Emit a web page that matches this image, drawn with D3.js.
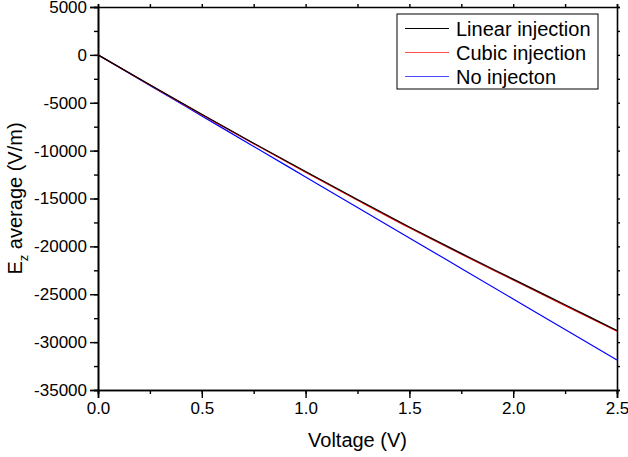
<!DOCTYPE html>
<html>
<head>
<meta charset="utf-8">
<script src="https://cdn.jsdelivr.net/npm/d3@7/dist/d3.min.js"></script>
<style>
  body { margin: 0; background: #fff; }
  svg { font-family: Arial, "Liberation Sans", sans-serif; }
</style>
</head>
<body>
<script>
// voltage steps (V)
var voltage = [0, 0.25, 0.5, 0.75, 1.0, 1.25, 1.5, 1.75, 2.0, 2.25, 2.5];
// Ez average (V/m)
var linearInj = [0, -3120, -6200, -9220, -12180, -15100, -17970, -20730, -23420, -26100, -28780];
var cubicInj  = [0, -3150, -6250, -9280, -12250, -15180, -18060, -20820, -23510, -26200, -28850];
var noInj     = [0, -3190, -6375, -9560, -12750, -15940, -19120, -22310, -25500, -28690, -31870];

var seriesNames = ["Linear injection", "Cubic injection", "No injecton"];
var seriesColors = ["#000000", "#ff0000", "#0000ff"];

var xTicks = [0, 0.5, 1.0, 1.5, 2.0, 2.5];
var yTicks = [5000, 0, -5000, -10000, -15000, -20000, -25000, -30000, -35000];

var W = 628, H = 457;
var margin = {left: 98, right: 11, top: 7, bottom: 67};
var w = W - margin.left - margin.right;
var h = H - margin.top - margin.bottom;

var svg = d3.select("body").append("svg")
    .attr("width", W).attr("height", H);
var g = svg.append("g")
    .attr("transform", "translate(" + margin.left + "," + margin.top + ")");

var x = d3.scaleLinear().domain([0, 2.5]).range([0, w]);
var y = d3.scaleLinear().domain([-35000, 5000]).range([h, 0]);

// minor ticks first
var xMinor = d3.range(0, 2.5001, 0.25);
var yMinor = d3.range(-35000, 5001, 2500);

g.append("g").attr("transform", "translate(0," + h + ")")
    .call(d3.axisBottom(x).tickValues(xMinor).tickSize(4).tickFormat(""));
g.append("g")
    .call(d3.axisLeft(y).tickValues(yMinor).tickSize(4).tickFormat(""));
g.append("g")
    .call(d3.axisTop(x).tickValues(xMinor).tickSize(3).tickFormat(""));
g.append("g").attr("transform", "translate(" + w + ",0)")
    .call(d3.axisRight(y).tickValues(yMinor).tickSize(3).tickFormat(""));

// major ticks with labels
var xAxis = g.append("g").attr("transform", "translate(0," + h + ")")
    .call(d3.axisBottom(x).tickValues(xTicks).tickSize(8).tickPadding(4)
      .tickFormat(d3.format(".1f")));
var yAxis = g.append("g")
    .call(d3.axisLeft(y).tickValues(yTicks).tickSize(8).tickPadding(3)
      .tickFormat(function(d){ return d; }));

svg.selectAll(".domain").attr("stroke", "#000").attr("stroke-width", 1.6);
svg.selectAll(".tick line").attr("stroke", "#000").attr("stroke-width", 1.4);
svg.selectAll(".tick text").attr("font-size", 17).attr("fill", "#000")
    .attr("font-family", "Arial, 'Liberation Sans', sans-serif");

// series
var allSeries = [linearInj, cubicInj, noInj];
var line = d3.line()
    .x(function(d, i){ return x(voltage[i]); })
    .y(function(d){ return y(d); })
    .curve(d3.curveMonotoneX);

// draw blue, red, then black so black sits just above red
[2, 1, 0].forEach(function(k){
  g.append("path")
    .datum(allSeries[k])
    .attr("fill", "none")
    .attr("stroke", seriesColors[k])
    .attr("stroke-width", 1.2)
    .attr("d", line);
});

// legend
var lg = svg.append("g").attr("transform", "translate(397,14)");
lg.append("rect").attr("width", 201).attr("height", 75)
    .attr("fill", "#fff").attr("stroke", "#000").attr("stroke-width", 1);
seriesNames.forEach(function(name, i){
  var ly = 14.5 + i * 24;
  lg.append("line").attr("x1", 8).attr("x2", 52).attr("y1", ly).attr("y2", ly)
    .attr("stroke", seriesColors[i]).attr("stroke-width", 1.2)
    .attr("stroke-opacity", i == 0 ? 1 : 0.7);
  lg.append("text").attr("x", 59).attr("y", ly + 7)
    .attr("font-size", 20).text(name);
});

// axis titles
svg.append("text")
    .attr("x", margin.left + w / 2).attr("y", 447)
    .attr("text-anchor", "middle").attr("font-size", 20)
    .text("Voltage (V)");

var yt = svg.append("text")
    .attr("transform", "translate(22," + (margin.top + h / 2) + ") rotate(-90)")
    .attr("text-anchor", "middle").attr("font-size", 20);
yt.append("tspan").text("E");
yt.append("tspan").attr("font-size", 13).attr("dy", 6).text("z");
yt.append("tspan").attr("dy", -6).text(" average (V/m)");
</script>
</body>
</html>
